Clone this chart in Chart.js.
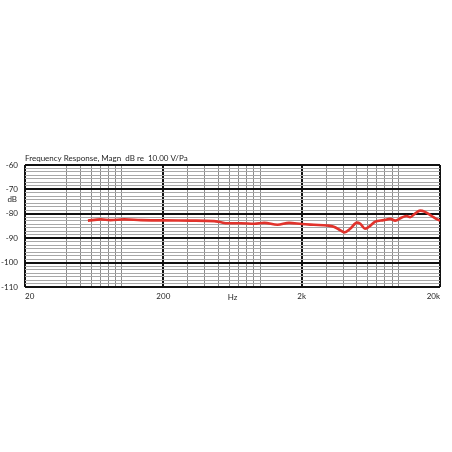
<!DOCTYPE html>
<html>
<head>
<meta charset="utf-8">
<script src="https://cdn.jsdelivr.net/npm/chart.js@4.4.1/dist/chart.umd.min.js"></script>
<style>
html,body{margin:0;padding:0;background:#fff;}
canvas{display:block;}
</style>
</head>
<body>
<canvas id="c" width="452" height="452"></canvas>
<script>
// Data
const freqHz = [57, 70.5, 83, 104, 138, 200, 318, 466, 522, 584, 728, 908, 1072, 1337, 1621, 2000, 2452, 3060, 3413, 3814, 4073, 4508, 5015, 5310, 5729, 6095, 6810, 7818, 8730, 9486, 10593, 11510, 12160, 13210, 14350, 15590, 17420, 19440, 20000];
const levelDb = [-82.8, -82.3, -82.6, -82.3, -82.6, -82.7, -82.8, -83.0, -83.5, -83.9, -83.9, -84.1, -83.7, -84.5, -83.7, -84.2, -84.5, -84.8, -85.3, -86.8, -87.6, -86.0, -83.6, -84.1, -86.1, -85.4, -83.2, -82.6, -82.1, -82.8, -81.5, -80.9, -81.4, -79.9, -78.7, -79.2, -80.9, -82.5, -82.8];

const xMajor = [20, 200, 2000, 20000];
const xMajorLabels = ['20', '200', '2k', '20k'];
const xMinor = [40, 50, 60, 70, 80, 90, 100, 300, 400, 500, 600, 700, 800, 900, 1000, 3000, 4000, 5000, 6000, 7000, 8000, 9000, 10000];
const yMajor = [-60, -70, -80, -90, -100, -110];
const yMajorLabels = ['-60', '-70', '-80', '-90', '-100', '-110'];
const yMinorStep = 10 / 7;
const titleText = 'Frequency Response, Magn  dB re  10.00 V/Pa';
const xUnit = 'Hz';
const yUnit = 'dB';

const FONT = 'Lato, "Open Sans", sans-serif';
const TEXT = '#262626';

const points = freqHz.map((f, i) => ({x: f, y: levelDb[i]}));

const yTickValues = [];
for (let k = 0; k < 5; k++) {
  const top = -60 - 10 * k;
  yTickValues.push(top);
  for (let j = 1; j < 7; j++) yTickValues.push(top - j * yMinorStep);
}
yTickValues.push(-110);

const isMajorX = v => xMajor.some(m => Math.abs(m - v) < 1e-6);
const isMajorY = v => yMajor.some(m => Math.abs(m - v) < 1e-6);

const textPlugin = {
  id: 'extraText',
  afterDraw(chart) {
    const ctx = chart.ctx;
    const a = chart.chartArea;
    const xs = chart.scales.x, ys = chart.scales.y;
    ctx.save();
    ctx.fillStyle = TEXT;
    ctx.font = '8px ' + FONT;
    ctx.textAlign = 'left';
    ctx.textBaseline = 'alphabetic';
    ctx.fillText(titleText, a.left, a.top - 4);
    ctx.textAlign = 'center';
    ctx.textBaseline = 'middle';
    const hzX = (xs.getPixelForValue(200) + xs.getPixelForValue(2000)) / 2;
    ctx.fillText(xUnit, hzX, a.bottom + 10);
    ctx.textAlign = 'right';
    ctx.fillText(yUnit, a.left - 8, ys.getPixelForValue(-74.2));
    ctx.restore();
  }
};

new Chart(document.getElementById('c'), {
  type: 'line',
  data: {
    datasets: [{
      data: points,
      borderColor: '#e1332c',
      borderWidth: 2.6,
      pointRadius: 0,
      fill: false,
      tension: 0.4,
      cubicInterpolationMode: 'monotone'
    }]
  },
  options: {
    responsive: false,
    animation: false,
    devicePixelRatio: 1,
    layout: {padding: {left: 0, right: 12, top: 165, bottom: 140}},
    plugins: {legend: {display: false}, tooltip: {enabled: false}, title: {display: false}},
    scales: {
      x: {
        type: 'logarithmic',
        min: 20, max: 20000,
        afterBuildTicks(scale) {
          scale.ticks = xMajor.concat(xMinor).sort((a, b) => a - b).map(v => ({value: v}));
        },
        afterFit(scale) { scale.height = 25; },
        border: {display: false},
        grid: {
          drawTicks: false,
          color: ctx => isMajorX(ctx.tick.value) ? '#111' : '#8c8c8c',
          lineWidth: ctx => isMajorX(ctx.tick.value) ? 2 : 1
        },
        ticks: {
          autoSkip: false,
          maxRotation: 0,
          align: 'inner',
          padding: 5,
          color: TEXT,
          font: {family: FONT, size: 8},
          callback: v => { const i = xMajor.findIndex(m => Math.abs(m - v) < 1e-6); return i >= 0 ? xMajorLabels[i] : ''; }
        }
      },
      y: {
        type: 'linear',
        min: -110, max: -60,
        afterBuildTicks(scale) {
          scale.ticks = yTickValues.map(v => ({value: v}));
        },
        afterFit(scale) { scale.width = 25; },
        border: {display: false},
        grid: {
          drawTicks: false,
          color: ctx => isMajorY(ctx.tick.value) ? '#111' : '#a8a8a8',
          lineWidth: ctx => isMajorY(ctx.tick.value) ? 2 : 1
        },
        ticks: {
          autoSkip: false,
          padding: 7,
          color: TEXT,
          font: {family: FONT, size: 8},
          callback: v => { const i = yMajor.findIndex(m => Math.abs(m - v) < 1e-6); return i >= 0 ? yMajorLabels[i] : ''; }
        }
      }
    }
  },
  plugins: [textPlugin]
});
</script>
</body>
</html>
